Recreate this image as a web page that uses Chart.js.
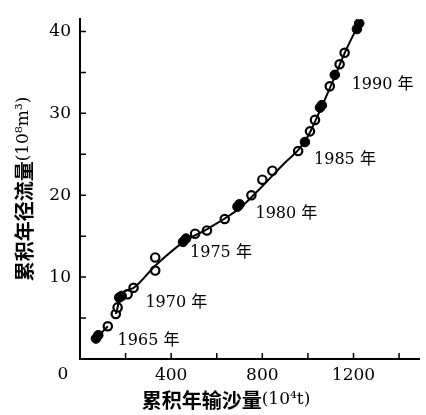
<!DOCTYPE html>
<html>
<head>
<meta charset="utf-8">
<script src="https://cdn.jsdelivr.net/npm/chart.js@4.4.1/dist/chart.umd.min.js"></script>
<style>
  html, body { margin: 0; padding: 0; background: #fff; }
  #wrap { width: 426px; height: 415px; }
</style>
</head>
<body>
<div id="wrap"><canvas id="chart" width="426" height="415"></canvas></div>
<script>
// cumulative sediment (10^4 t) vs cumulative runoff (10^8 m3)
const openSediment = [122, 157, 165, 209, 235, 330, 330, 505, 557, 635, 752, 800, 844, 957, 1009, 1031, 1096, 1139, 1161];
const openRunoff = [4.0, 5.5, 6.3, 7.9, 8.7, 12.4, 10.8, 15.3, 15.7, 17.1, 20.0, 21.9, 23.0, 25.4, 27.8, 29.2, 33.3, 36.0, 37.4];
const filledSediment = [70, 80, 172, 183, 452, 465, 691, 700, 987, 1053, 1061, 1118, 1215, 1225];
const filledRunoff = [2.5, 2.9, 7.5, 7.7, 14.3, 14.7, 18.6, 18.9, 26.5, 30.7, 31.0, 34.7, 40.3, 41.0];
const fitSediment = [157, 165, 172, 235, 330, 460, 560, 700, 800, 900, 960, 1000, 1060, 1120, 1160, 1225, 1260];
const fitRunoff = [5.5, 6.3, 7.4, 8.7, 11.4, 14.4, 15.9, 18.4, 21.1, 24.0, 25.6, 27.2, 30.8, 34.6, 37.3, 41.0, 43.0];
const earlySediment = [70, 122];
const earlyRunoff = [2.5, 4.0];
const yearText = ["1965 年", "1970 年", "1975 年", "1980 年", "1985 年", "1990 年"];
const yearSediment = [165, 287, 483, 770, 1027, 1192];
const yearRunoff = [2.2, 6.9, 13.0, 17.7, 24.3, 33.5];
const xTickLabels = [400, 800, 1200];
const yTickLabels = [10, 20, 30, 40];

const pts = (xs, ys) => xs.map((v, i) => ({ x: v, y: ys[i] }));

const serif = "'DejaVu Serif', 'Liberation Serif', serif";
const cjk = "'Noto Sans CJK SC', sans-serif";

function drawTitle(ctx, parts, cx, cy, rot) {
  ctx.save();
  ctx.translate(cx, cy);
  ctx.rotate(rot);
  ctx.textBaseline = "middle";
  ctx.textAlign = "left";
  let total = 0;
  for (const p of parts) { ctx.font = p.font; total += ctx.measureText(p.text).width; }
  let pos = -total / 2;
  for (const p of parts) {
    ctx.font = p.font;
    ctx.fillText(p.text, pos, 0);
    pos += ctx.measureText(p.text).width;
  }
  ctx.restore();
}

const decorations = {
  id: "decorations",
  afterDraw(chart) {
    const { ctx, chartArea } = chart;
    const x = chart.scales.x, y = chart.scales.y;
    ctx.save();
    ctx.strokeStyle = "#000";
    ctx.fillStyle = "#000";
    ctx.lineWidth = 1.5;
    ctx.beginPath();
    x.ticks.forEach(t => {
      if (t.value === 0) return;
      const px = x.getPixelForValue(t.value);
      ctx.moveTo(px, chartArea.bottom);
      ctx.lineTo(px, chartArea.bottom - 6);
    });
    y.ticks.forEach(t => {
      if (t.value === 0) return;
      const py = y.getPixelForValue(t.value);
      ctx.moveTo(chartArea.left, py);
      ctx.lineTo(chartArea.left + 6, py);
    });
    ctx.stroke();

    ctx.font = "16px 'DejaVu Serif', " + cjk;
    ctx.textBaseline = "middle";
    ctx.textAlign = "left";
    yearText.forEach((txt, i) => {
      ctx.fillText(txt, x.getPixelForValue(yearSediment[i]), y.getPixelForValue(yearRunoff[i]));
    });

    ctx.font = "17px " + serif;
    ctx.textAlign = "center";
    ctx.fillText("0", 63, 375);

    drawTitle(ctx, [
      { text: "累积年输沙量", font: "bold 20px " + cjk },
      { text: "(10⁴t)", font: "17px " + serif }
    ], 226, 400, 0);
    drawTitle(ctx, [
      { text: "累积年径流量", font: "bold 20px " + cjk },
      { text: "(10⁸m³)", font: "17px " + serif }
    ], 24, 189, -Math.PI / 2);
    ctx.restore();
  }
};

new Chart(document.getElementById("chart"), {
  type: "scatter",
  plugins: [decorations],
  data: {
    datasets: [
      {
        type: "line",
        data: pts(fitSediment, fitRunoff),
        borderColor: "#000",
        borderWidth: 2,
        pointRadius: 0,
        cubicInterpolationMode: "monotone",
        fill: false
      },
      {
        type: "line",
        data: pts(earlySediment, earlyRunoff),
        borderColor: "#000",
        borderWidth: 2,
        pointRadius: 0,
        fill: false
      },
      {
        data: pts(filledSediment, filledRunoff),
        backgroundColor: "#000",
        borderColor: "#000",
        borderWidth: 1,
        pointRadius: 4.8
      },
      {
        data: pts(openSediment, openRunoff),
        backgroundColor: "#fff",
        borderColor: "#000",
        borderWidth: 2.2,
        pointRadius: 4.2
      }
    ]
  },
  options: {
    responsive: false,
    animation: false,
    devicePixelRatio: 1,
    layout: { padding: { top: 5, right: 5, left: 0, bottom: 0 } },
    plugins: { legend: { display: false }, tooltip: { enabled: false } },
    scales: {
      x: {
        type: "linear",
        min: 0,
        max: 1490,
        afterFit: s => { s.height = 56; },
        grid: { display: true, drawOnChartArea: false, drawTicks: false },
        border: { display: true, color: "#000", width: 2 },
        ticks: {
          stepSize: 200,
          includeBounds: false,
          autoSkip: false,
          maxRotation: 0,
          padding: 6,
          color: "#000",
          font: { family: serif, size: 17 },
          callback: v => (xTickLabels.includes(v) ? String(v) : "")
        }
      },
      y: {
        type: "linear",
        min: 0,
        max: 41.5,
        afterFit: s => { s.width = 80; },
        grid: { display: true, drawOnChartArea: false, drawTicks: false },
        border: { display: true, color: "#000", width: 2 },
        ticks: {
          stepSize: 5,
          includeBounds: false,
          autoSkip: false,
          padding: 9,
          color: "#000",
          font: { family: serif, size: 17 },
          callback: v => (yTickLabels.includes(v) ? String(v) : "")
        }
      }
    }
  }
});
</script>
</body>
</html>
